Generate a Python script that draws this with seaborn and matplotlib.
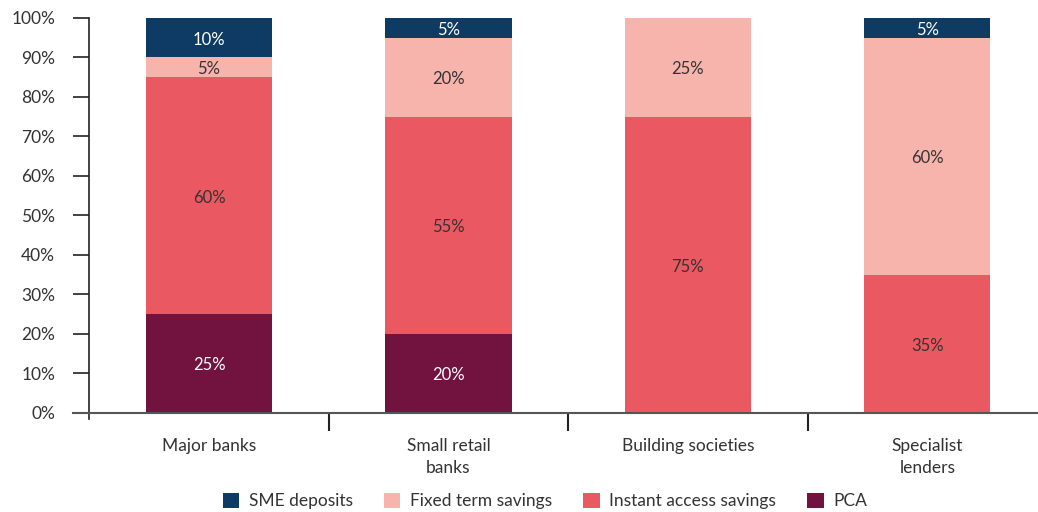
import numpy as np
import pandas as pd
import seaborn as sns
import matplotlib.pyplot as plt

# data: share of deposits by type (%)
categories = ['Major banks', 'Small retail\nbanks', 'Building societies', 'Specialist\nlenders']
pca = [25, 20, 0, 0]
instant_access = [60, 55, 75, 35]
fixed_term = [5, 20, 25, 60]
sme_deposits = [10, 5, 0, 5]

series = ['PCA', 'Instant access savings', 'Fixed term savings', 'SME deposits']
colors = {'PCA': '#72133F', 'Instant access savings': '#EA5961',
          'Fixed term savings': '#F6B4AC', 'SME deposits': '#0D3B63'}
text_colors = {'PCA': 'white', 'Instant access savings': '#333333',
               'Fixed term savings': '#333333', 'SME deposits': 'white'}

sns.set_style('white')
plt.rcParams['font.family'] = ['Lato', 'DejaVu Sans']

df = pd.DataFrame({'category': categories, 'PCA': pca,
                   'Instant access savings': instant_access,
                   'Fixed term savings': fixed_term,
                   'SME deposits': sme_deposits})
cum = df[series].cumsum(axis=1)

fig = plt.figure(figsize=(10.38, 5.12), dpi=100)
ax = fig.add_axes([89.3 / 1038, 99.3 / 512, (1047 - 89.3) / 1038, (494 - 99.3) / 512])

# stacked bars: draw tallest cumulative layer first
for s in reversed(series):
    sns.barplot(x=df['category'], y=cum[s], color=colors[s], width=0.527,
                saturation=1, ax=ax, label=s, linewidth=0)

handles, labels = ax.get_legend_handles_labels()
if ax.get_legend() is not None:
    ax.get_legend().remove()

# segment labels
for s in series:
    for i, v in enumerate(df[s]):
        if v > 0:
            mid = cum[s][i] - v / 2 - 0.5
            ax.text(i, mid, f'{v}%', ha='center', va='center', fontsize=12,
                    color=text_colors[s])

ax.set_xlim(-0.5, 3.5)
ax.set_ylim(0, 100)
ax.set_xlabel('')
ax.set_ylabel('')
ax.set_yticks(np.arange(0, 101, 10))
ax.set_yticklabels([f'{t}%' for t in range(0, 101, 10)], fontsize=12.5, color='#333333')
ax.tick_params(axis='y', length=11.5, width=1.2, color='#222222', pad=13, left=True)
ax.set_xticks(range(4))
ax.set_xticklabels(categories, fontsize=12.5, color='#333333', linespacing=1.5)
ax.tick_params(axis='x', which='major', length=0, pad=18)
ax.set_xticks([0.5, 1.5, 2.5], minor=True)
ax.tick_params(axis='x', which='minor', length=13, width=1.5, color='#222222', bottom=True)

for sp in ['top', 'right']:
    ax.spines[sp].set_visible(False)
ax.spines['left'].set_color('#222222')
ax.spines['left'].set_linewidth(1.2)
ax.spines['left'].set_bounds(-1.6, 100)
ax.spines['bottom'].set_color('#555555')
ax.spines['bottom'].set_linewidth(1.5)
ax.spines['bottom'].set_bounds(-0.5 - 16 / 239.5, 3.5)

order = ['SME deposits', 'Fixed term savings', 'Instant access savings', 'PCA']
hmap = dict(zip(labels, handles))
fig.legend([hmap[o] for o in order], order, loc='lower center',
           bbox_to_anchor=(0.525, -0.025), ncol=4, frameon=False, fontsize=12.5,
           handlelength=0.95, handleheight=0.95, handletextpad=0.55,
           columnspacing=1.8, labelcolor='#333333')

fig.savefig('out.png', dpi=100)
